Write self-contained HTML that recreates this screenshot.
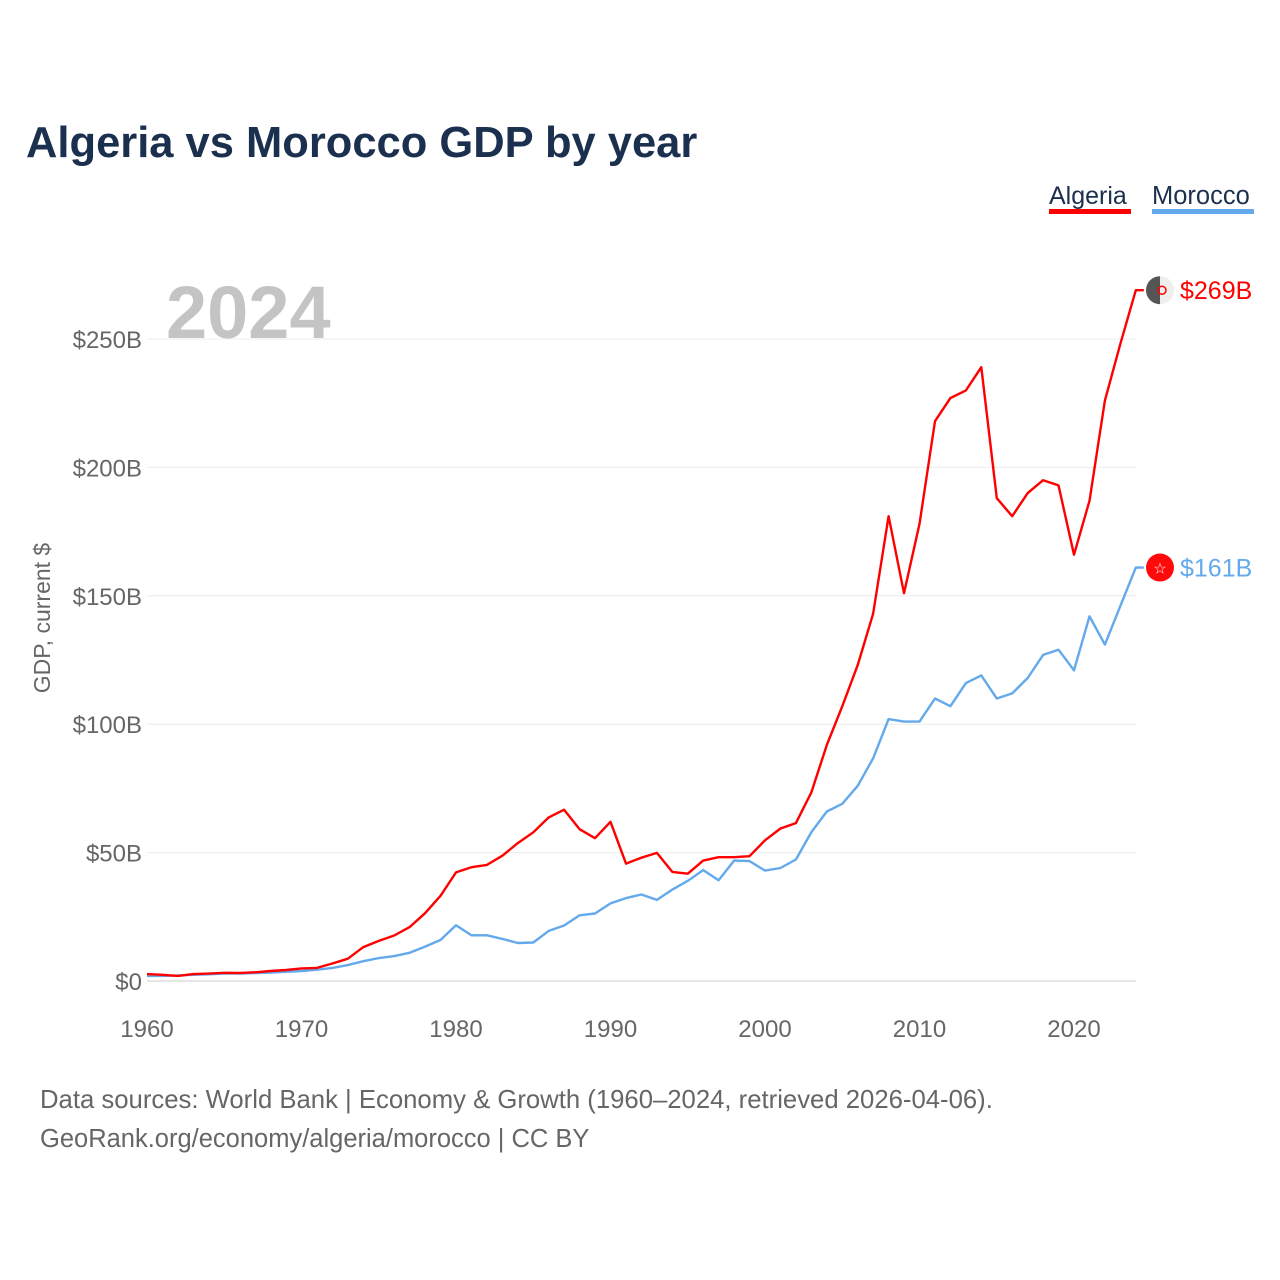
<!DOCTYPE html>
<html><head><meta charset="utf-8"><style>
body{margin:0;background:#fff;font-family:"Liberation Sans",sans-serif;}
#wrap{position:relative;width:1280px;height:1280px;overflow:hidden;}
</style></head><body>
<div id="wrap">
<svg id="svg" width="1280" height="1280">
<text x="26" y="157" font-size="43.5" font-weight="bold" fill="#1b2f4f">Algeria vs Morocco GDP by year</text>
<g><text x="1049" y="204" font-size="25" fill="#1b2f4f">Algeria</text><rect x="1049" y="209" width="82" height="5" fill="#ff0000"/></g>
<g><text x="1152" y="204" font-size="25.5" fill="#1b2f4f">Morocco</text><rect x="1152" y="209" width="102" height="5" fill="#63a9ec"/></g>
<text x="166" y="338" font-size="74" font-weight="bold" fill="#c4c4c4">2024</text>
<text transform="translate(50,618) rotate(-90)" text-anchor="middle" font-size="23" fill="#666">GDP, current $</text>
<g id="grid"></g><g id="lines"></g><g id="ends"></g>
<text x="40" y="1108" font-size="25.7" fill="#666">Data sources: World Bank | Economy &amp; Growth (1960–2024, retrieved 2026-04-06).</text>
<text x="40" y="1147" font-size="25.5" fill="#666">GeoRank.org/economy/algeria/morocco | CC BY</text>
</svg></div>
<script>
const years=[];for(let y=1960;y<=2024;y++)years.push(y);
const yTicks=[0,50,100,150,200,250];
const xTicks=[1960,1970,1980,1990,2000,2010,2020];
const algeria=[2.7,2.4,2.0,2.7,2.9,3.2,3.1,3.4,3.9,4.3,4.9,5.1,6.8,8.7,13.2,15.6,17.7,21.0,26.4,33.2,42.3,44.3,45.2,48.8,53.7,57.9,63.7,66.7,59.1,55.6,62.0,45.7,48.0,49.9,42.5,41.8,46.9,48.2,48.2,48.6,54.8,59.4,61.5,73.5,91.9,107,123,143,181,151,178,218,227,230,239,188,181,190,195,193,166,187,226,248,269];
const morocco=[2.0,2.0,2.2,2.4,2.6,2.9,2.9,3.1,3.3,3.6,3.9,4.4,5.1,6.2,7.7,8.9,9.7,11.0,13.4,16.0,21.7,17.8,17.8,16.4,14.8,15.0,19.5,21.6,25.6,26.3,30.2,32.3,33.7,31.6,35.6,39.0,43.2,39.2,46.9,46.7,43.0,44.0,47.3,58.0,66.0,69.0,76.0,86.7,102,101,101,110,107,116,119,110,112,118,127,129,121,142,131,146,161];
const X=y=>147+(y-1960)*927/60;
const Y=v=>981-v*642/250;
const NS="http://www.w3.org/2000/svg";
function mk(t,a,p){const e=document.createElementNS(NS,t);for(const k in a)e.setAttribute(k,a[k]);p.appendChild(e);return e;}
const grid=document.getElementById('grid');
yTicks.forEach(v=>{
 const l=mk('line',{x1:147,x2:1136,y1:Y(v),y2:Y(v),stroke:v==0?'#e6e6e6':'#ececec','stroke-width':v==0?2:1},grid);
 
 
 const t=mk('text',{x:142,y:Y(v)+9,'text-anchor':'end','font-size':24,fill:'#666'},grid);
 t.textContent='$'+v+(v?'B':'');
 
 
});
xTicks.forEach(y=>{
 const t=mk('text',{x:X(y),y:1037,'text-anchor':'middle','font-size':24,fill:'#666'},grid);
 t.textContent=y;
 
 
});
const lines=document.getElementById('lines');
[[morocco,'#63a9ec','morocco-line'],[algeria,'#ff0000','algeria-line']].forEach(([d,c,n])=>{
 let s=d.map((v,i)=>(i?'L':'M')+X(years[i]).toFixed(1)+','+Y(v).toFixed(1)).join(' ');
 s+=' L'+(X(2024)+8)+','+Y(d[d.length-1]).toFixed(1);
 const p=mk('path',{d:s,fill:'none',stroke:c,'stroke-width':2.4,'stroke-linejoin':'round'},lines);
 
 
});
const ends=document.getElementById('ends');
const ay=Y(algeria[algeria.length-1]),my=Y(morocco[morocco.length-1]);
const g1=mk('g',{},ends);


mk('circle',{cx:1160,cy:ay,r:14,fill:'#eeeeee'},g1);
mk('path',{d:`M1160,${ay-14} A14,14 0 0 0 1160,${ay+14} Z`,fill:'#555'},g1);
mk('circle',{cx:1162,cy:ay,r:4,fill:'none',stroke:'#f00','stroke-width':1.5},g1);
const t1=mk('text',{x:1180,y:ay+9,'font-size':25,fill:'#ff0000'},ends);t1.textContent='$269B';


const g2=mk('g',{},ends);


mk('circle',{cx:1160,cy:my,r:14,fill:'#ff0a0a'},g2);
const st=mk('text',{x:1160,y:my+6,'text-anchor':'middle','font-size':15,fill:'#fff'},g2);st.textContent='☆';
const t2=mk('text',{x:1180,y:my+9,'font-size':25,fill:'#63a9ec'},ends);t2.textContent='$161B';


</script>
</body></html>
